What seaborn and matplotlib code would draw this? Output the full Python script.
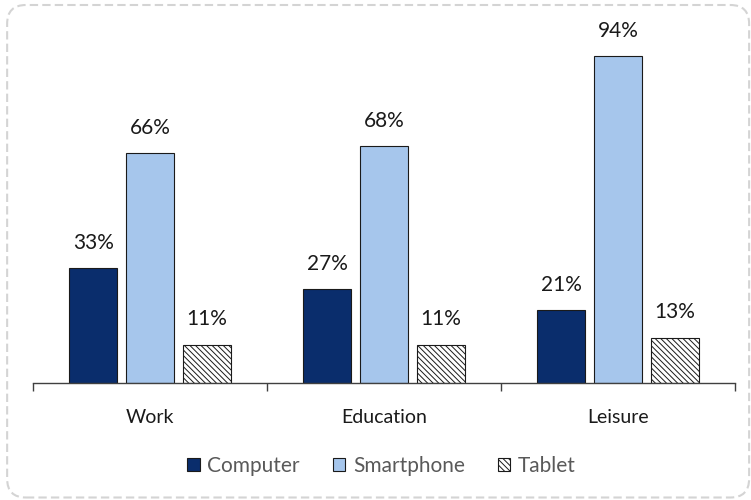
import matplotlib
matplotlib.use("Agg")
import matplotlib.pyplot as plt
from matplotlib.patches import FancyBboxPatch, Patch
import seaborn as sns
import pandas as pd

categories = ["Work", "Education", "Leisure"]
devices = ["Computer", "Smartphone", "Tablet"]
computer = [33, 27, 21]
smartphone = [66, 68, 94]
tablet = [11, 11, 13]

colors = {"Computer": "#0a2d6c", "Smartphone": "#a6c6ec", "Tablet": "#ffffff"}
hatch = "\\\\\\\\\\\\"

rows = []
for dev, vals in zip(devices, [computer, smartphone, tablet]):
    for cat, v in zip(categories, vals):
        rows.append({"category": cat, "device": dev, "value": v})
df = pd.DataFrame(rows)

sns.set_theme(style="white")
plt.rcParams["font.family"] = ["Lato", "DejaVu Sans"]
plt.rcParams["hatch.linewidth"] = 0.7

fig = plt.figure(figsize=(7.51, 5.0), dpi=100)
ax = fig.add_axes([0.044, 0.234, 0.935, 0.696])

sns.barplot(data=df, x="category", y="value", hue="device",
            order=categories, hue_order=devices, palette=colors,
            saturation=1, width=0.73, gap=0.15, edgecolor="#1a1a1a",
            linewidth=0.8, legend=False, ax=ax)

# hatch the tablet bars and label every bar with its value
for container, dev in zip(ax.containers, devices):
    for bar in container:
        if dev == "Tablet":
            bar.set_hatch(hatch)
    ax.bar_label(container, labels=[f"{int(v)}%" for v in container.datavalues],
                 padding=11, fontsize=15, color="#1a1a1a")

ax.set_xlim(-0.5, 2.5)
ax.set_ylim(0, 100)
ax.set_xlabel("")
ax.set_ylabel("")
ax.set_yticks([])
for side in ["top", "right", "left"]:
    ax.spines[side].set_visible(False)
ax.spines["bottom"].set_color("#404040")
ax.spines["bottom"].set_linewidth(1.0)

ax.set_xticks([-0.5, 0.5, 1.5, 2.5])
ax.set_xticklabels([])
ax.tick_params(axis="x", which="major", direction="out", length=6,
               color="#404040", width=1.0, bottom=True)
ax.set_xticks(range(len(categories)), minor=True)
ax.set_xticklabels(categories, minor=True, fontsize=14, color="#1a1a1a")
ax.tick_params(axis="x", which="minor", length=0, pad=19)

handles = [Patch(facecolor=colors[d], edgecolor="#1a1a1a", linewidth=0.8,
                 hatch=hatch if d == "Tablet" else None) for d in devices]
leg = fig.legend(handles, devices, loc="center", bbox_to_anchor=(0.508, 0.068),
                 ncol=3, frameon=False, fontsize=15, handlelength=0.6,
                 handleheight=0.6, handletextpad=0.35, columnspacing=1.6)
for t in leg.get_texts():
    t.set_color("#595959")

border = FancyBboxPatch((0.0095, 0.005), 0.988, 0.985,
                        boxstyle="round,pad=0,rounding_size=0.025",
                        transform=fig.transFigure, fill=False,
                        edgecolor="#d4d4d4", linestyle=(0, (4, 2)),
                        linewidth=1.5, mutation_aspect=751/500)
fig.patches.append(border)

fig.savefig("out.png", dpi=100)
